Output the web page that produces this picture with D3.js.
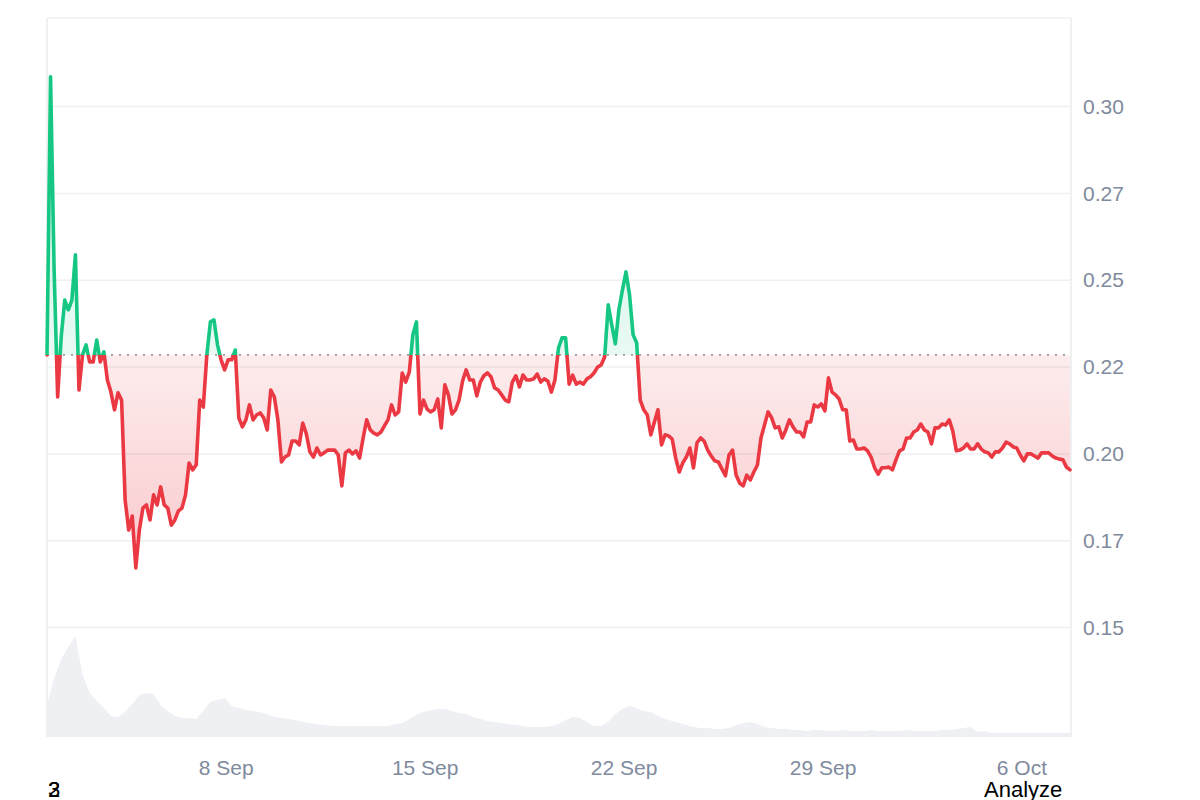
<!DOCTYPE html>
<html>
<head>
<meta charset="utf-8">
<script src="https://cdn.jsdelivr.net/npm/d3@7"></script>
<style>
  html, body { margin: 0; padding: 0; background: #ffffff; }
  svg { display: block; }
  text { font-family: "Liberation Sans", Arial, Helvetica, sans-serif; }
</style>
</head>
<body>
<svg id="chart" width="1200" height="800"></svg>
<script>
// ---------------- DATA ----------------
// Price series, 3-hour steps starting 1 Sep 17:00 (UTC)
const startTime = Date.UTC(2024, 8, 1, 17);
const priceStepHours = 3;
const prices = [
  0.2285,0.3086,0.2530,0.2164,0.2337,0.2443,0.2415,0.2443,0.2573,0.2184,
  0.2285,0.2314,0.2265,0.2265,0.2328,0.2265,0.2294,0.2213,0.2178,0.2127,
  0.2176,0.2155,0.1867,0.1781,0.1821,0.1672,0.1781,0.1844,0.1853,0.1810,
  0.1882,0.1853,0.1905,0.1853,0.1844,0.1795,0.1810,0.1836,0.1844,0.1882,
  0.1974,0.1954,0.1968,0.2155,0.2135,0.2285,0.2380,0.2386,0.2314,0.2271,
  0.2242,0.2271,0.2271,0.2299,0.2104,0.2078,0.2098,0.2141,0.2098,0.2112,
  0.2118,0.2104,0.2069,0.2184,0.2164,0.2098,0.1977,0.1991,0.1997,0.2037,
  0.2037,0.2026,0.2089,0.2058,0.2006,0.1991,0.2017,0.1997,0.2003,0.2011,
  0.2011,0.2011,0.1997,0.1908,0.2003,0.2011,0.2000,0.2009,0.1988,0.2046,
  0.2098,0.2069,0.2060,0.2055,0.2063,0.2081,0.2098,0.2141,0.2112,0.2121,
  0.2233,0.2207,0.2236,0.2343,0.2380,0.2115,0.2155,0.2129,0.2121,0.2127,
  0.2158,0.2075,0.2199,0.2170,0.2115,0.2127,0.2155,0.2210,0.2242,0.2213,
  0.2213,0.2167,0.2207,0.2225,0.2233,0.2222,0.2190,0.2184,0.2170,0.2155,
  0.2150,0.2207,0.2225,0.2193,0.2227,0.2213,0.2213,0.2216,0.2230,0.2207,
  0.2216,0.2210,0.2178,0.2213,0.2305,0.2334,0.2334,0.2201,0.2227,0.2201,
  0.2207,0.2201,0.2216,0.2222,0.2233,0.2250,0.2256,0.2279,0.2429,0.2371,
  0.2317,0.2415,0.2472,0.2524,0.2458,0.2343,0.2320,0.2155,0.2127,0.2112,
  0.2055,0.2092,0.2127,0.2026,0.2055,0.2052,0.2043,0.1988,0.1948,0.1974,
  0.1991,0.2017,0.1960,0.2032,0.2046,0.2037,0.2011,0.1994,0.1980,0.1977,
  0.1957,0.1937,0.1997,0.2011,0.1939,0.1916,0.1908,0.1939,0.1925,0.1948,
  0.1968,0.2046,0.2083,0.2121,0.2104,0.2075,0.2078,0.2046,0.2069,0.2098,
  0.2078,0.2063,0.2063,0.2049,0.2092,0.2092,0.2141,0.2135,0.2144,0.2124,
  0.2219,0.2178,0.2170,0.2158,0.2127,0.2127,0.2037,0.2040,0.2014,0.2014,
  0.2017,0.2009,0.1991,0.1960,0.1942,0.1960,0.1960,0.1962,0.1954,0.1983,
  0.2009,0.2014,0.2046,0.2046,0.2063,0.2069,0.2086,0.2069,0.2063,0.2029,
  0.2075,0.2075,0.2086,0.2083,0.2098,0.2066,0.2009,0.2011,0.2017,0.2029,
  0.2014,0.2014,0.2029,0.2014,0.2006,0.2003,0.1991,0.2006,0.2006,0.2017,
  0.2034,0.2029,0.2020,0.2017,0.1997,0.1980,0.2000,0.2000,0.1994,0.1988,
  0.2003,0.2003,0.2003,0.1994,0.1988,0.1985,0.1983,0.1962,0.1954
];

// Volume series (millions, relative), 6-hour steps from the same start
const volumeStepHours = 6;
const volumes = [
  3.2,5.9,7.8,9.0,10.1,6.3,4.4,3.6,2.9,2.1,
  2.0,2.5,3.3,4.2,4.4,4.3,3.2,2.6,2.1,1.9,
  1.9,1.8,2.6,3.5,3.7,3.9,3.1,2.9,2.7,2.6,
  2.5,2.3,2.0,1.9,1.8,1.7,1.5,1.4,1.3,1.2,
  1.1,1.1,1.1,1.1,1.1,1.1,1.1,1.1,1.1,1.3,
  1.4,1.8,2.2,2.5,2.7,2.8,2.8,2.6,2.4,2.3,
  2.0,1.8,1.6,1.5,1.4,1.3,1.2,1.1,1.0,1.0,
  1.0,1.1,1.3,1.7,2.0,1.9,1.5,1.1,1.1,1.5,
  2.3,2.8,3.1,2.9,2.6,2.5,2.1,1.8,1.6,1.4,
  1.2,1.0,0.9,0.9,0.8,0.8,0.9,1.2,1.4,1.5,
  1.3,1.0,0.9,0.8,0.8,0.7,0.7,0.6,0.7,0.7,
  0.6,0.6,0.7,0.6,0.6,0.6,0.7,0.6,0.6,0.6,
  0.6,0.7,0.6,0.6,0.6,0.6,0.7,0.7,0.8,0.9,
  1.0,0.5,0.6,0.4,0.4,0.4,0.4,0.4,0.4,0.4,
  0.4,0.4,0.4,0.4,0.4
];

// Axis ticks
const yTickValues = [0.30, 0.275, 0.25, 0.225, 0.20, 0.175, 0.15];
const yTickLabels = ["0.30", "0.27", "0.25", "0.22", "0.20", "0.17", "0.15"];
const xTickDates = [
  Date.UTC(2024, 8, 8), Date.UTC(2024, 8, 15), Date.UTC(2024, 8, 22),
  Date.UTC(2024, 8, 29), Date.UTC(2024, 9, 6)
];
const xTickLabels = ["8 Sep", "15 Sep", "22 Sep", "29 Sep", "6 Oct"];

// ---------------- CHART ----------------
(function () {
const HOUR = 3600 * 1000;
const priceData = prices.map((p, i) => ({ t: new Date(startTime + i * priceStepHours * HOUR), v: p }));
const volData = volumes.map((v, i) => ({ t: new Date(startTime + i * volumeStepHours * HOUR), v: v }));

const pLeft = 47, pRight = 1071, pTop = 18, pBottom = 737;
const svg = d3.select("#chart");

const x = d3.scaleUtc()
  .domain([priceData[0].t, priceData[priceData.length - 1].t])
  .range([pLeft, 1070]);
const y = d3.scaleLinear().domain([0.1185, 0.3255]).range([pBottom, pTop]);
const yVol = d3.scaleLinear().domain([0, 10]).range([pBottom, pBottom - 100]);

const baseline = prices[0];
const yBase = y(baseline);

const defs = svg.append("defs");
defs.append("clipPath").attr("id", "clipAbove")
  .append("rect").attr("x", pLeft - 5).attr("y", 0).attr("width", pRight - pLeft + 10).attr("height", yBase);
defs.append("clipPath").attr("id", "clipBelow")
  .append("rect").attr("x", pLeft - 5).attr("y", yBase).attr("width", pRight - pLeft + 10).attr("height", 800 - yBase);

const redGrad = defs.append("linearGradient").attr("id", "redGrad")
  .attr("gradientUnits", "userSpaceOnUse").attr("x1", 0).attr("x2", 0)
  .attr("y1", yBase).attr("y2", y(0.165));
redGrad.append("stop").attr("offset", 0).attr("stop-color", "#ea3943").attr("stop-opacity", 0.09);
redGrad.append("stop").attr("offset", 1).attr("stop-color", "#ea3943").attr("stop-opacity", 0.28);

const greenGrad = defs.append("linearGradient").attr("id", "greenGrad")
  .attr("gradientUnits", "userSpaceOnUse").attr("x1", 0).attr("x2", 0)
  .attr("y1", y(0.31)).attr("y2", yBase);
greenGrad.append("stop").attr("offset", 0).attr("stop-color", "#16c784").attr("stop-opacity", 0.22);
greenGrad.append("stop").attr("offset", 1).attr("stop-color", "#16c784").attr("stop-opacity", 0.10);

// frame
const gridColor = "#eff0f2";
svg.append("line").attr("x1", pLeft).attr("x2", pRight).attr("y1", pTop).attr("y2", pTop)
  .attr("stroke", gridColor).attr("stroke-width", 1.5);
svg.append("line").attr("x1", pLeft).attr("x2", pLeft).attr("y1", pTop).attr("y2", pBottom)
  .attr("stroke", gridColor).attr("stroke-width", 2);
svg.append("line").attr("x1", pRight).attr("x2", pRight).attr("y1", pTop).attr("y2", pBottom)
  .attr("stroke", gridColor).attr("stroke-width", 2);

// grid lines
svg.append("g").selectAll("line").data(yTickValues).join("line")
  .attr("x1", pLeft).attr("x2", pRight)
  .attr("y1", d => y(d)).attr("y2", d => y(d))
  .attr("stroke", gridColor).attr("stroke-width", 1.5);

// volume
const volArea = d3.area().x(d => x(d.t)).y0(pBottom).y1(d => yVol(d.v));
svg.append("path").datum(volData).attr("d", volArea).attr("fill", "#eef0f3");

// price fills
const fillArea = d3.area().x(d => x(d.t)).y0(yBase).y1(d => y(d.v));
svg.append("path").datum(priceData).attr("d", fillArea)
  .attr("fill", "url(#redGrad)").attr("clip-path", "url(#clipBelow)");
svg.append("path").datum(priceData).attr("d", fillArea)
  .attr("fill", "url(#greenGrad)").attr("clip-path", "url(#clipAbove)");

// baseline dotted
svg.append("line").attr("x1", pLeft).attr("x2", pRight).attr("y1", yBase).attr("y2", yBase)
  .attr("stroke", "#9a9a9a").attr("stroke-width", 1.6).attr("stroke-dasharray", "2,6");

// price line
const line = d3.line().x(d => x(d.t)).y(d => y(d.v));
svg.append("path").datum(priceData).attr("d", line)
  .attr("fill", "none").attr("stroke", "#ea3943").attr("stroke-width", 3.6)
  .attr("stroke-linejoin", "round").attr("stroke-linecap", "round")
  .attr("clip-path", "url(#clipBelow)");
svg.append("path").datum(priceData).attr("d", line)
  .attr("fill", "none").attr("stroke", "#16c784").attr("stroke-width", 3.6)
  .attr("stroke-linejoin", "round").attr("stroke-linecap", "round")
  .attr("clip-path", "url(#clipAbove)");

// y axis (right)
const yAxis = d3.axisRight(y).tickValues(yTickValues)
  .tickFormat((d, i) => yTickLabels[i]).tickSize(0).tickPadding(12);
const gy = svg.append("g").attr("transform", `translate(${pRight},0)`).call(yAxis);
gy.select(".domain").remove();
gy.selectAll("text").attr("fill", "#808a9d").style("font-size", "21px")
  .style("font-family", "'Liberation Sans', Arial, sans-serif");

// x axis
const xAxis = d3.axisBottom(x).tickValues(xTickDates.map(d => new Date(d)))
  .tickFormat((d, i) => xTickLabels[i]).tickSize(0).tickPadding(23);
const gx = svg.append("g").attr("transform", `translate(0,${pBottom})`).call(xAxis);
gx.select(".domain").remove();
gx.selectAll("text").attr("fill", "#808a9d").style("font-size", "21px")
  .style("font-family", "'Liberation Sans', Arial, sans-serif");

// stray labels at the bottom
svg.append("text").attr("x", 48).attr("y", 797).text("2")
  .attr("fill", "#000").style("font-size", "22px");
svg.append("text").attr("x", 48).attr("y", 797).text("3")
  .attr("fill", "#000").style("font-size", "22px");
svg.append("text").attr("x", 984).attr("y", 797).text("Analyze")
  .attr("fill", "#000").style("font-size", "22px");
})();
</script>
</body>
</html>
